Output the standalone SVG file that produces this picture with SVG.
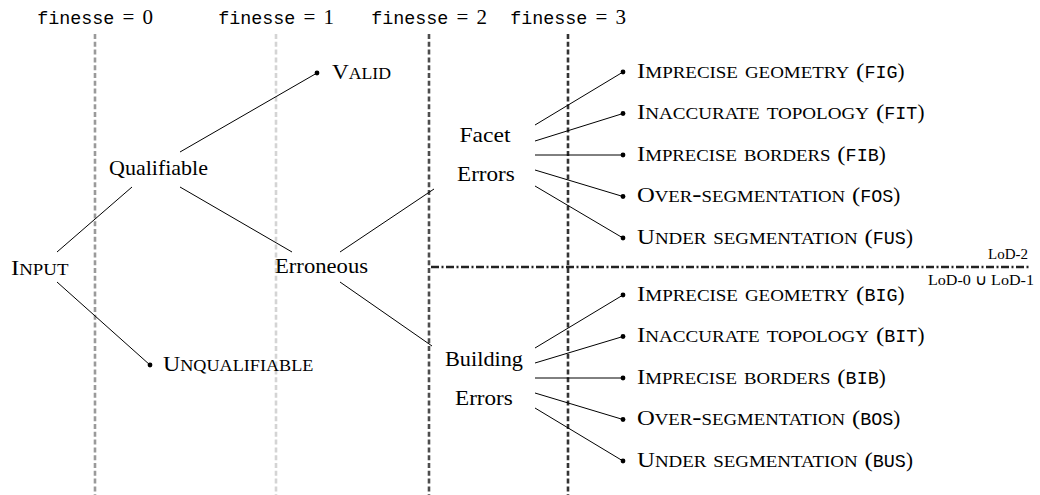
<svg xmlns="http://www.w3.org/2000/svg" width="1040" height="495" viewBox="0 0 1040 495">
<style>
text{font-family:"Liberation Serif","Times New Roman",serif;font-size:21px;fill:#000}
.sc{font-variant:small-caps;font-size:23.5px}
.cap{font-size:21px}
.tt{font-family:"Liberation Mono","Courier New",monospace;font-size:18.4px}
.lod{font-size:14.5px}
.vl{stroke-width:2.6;stroke-dasharray:5 2.8;fill:none}
.c{stroke:#000;stroke-width:1;fill:none}
.dot{fill:#000}
</style>
<rect width="1040" height="495" fill="#fff"/>
<g id="finesse-axes">
<line class="vl" x1="95" y1="34" x2="95" y2="495" stroke="#9a9a9a"/>
<line class="vl" x1="276" y1="34" x2="276" y2="495" stroke="#d4d4d4"/>
<line class="vl" x1="429" y1="34" x2="429" y2="495" stroke="#4d4d4d"/>
<line class="vl" x1="568" y1="34" x2="568" y2="495" stroke="#333"/>
<text y="24"><tspan class="tt" x="37.2" textLength="77.2" lengthAdjust="spacingAndGlyphs">finesse</tspan><tspan x="128.4" text-anchor="middle">=</tspan><tspan x="142.4">0</tspan></text>
<text y="24"><tspan class="tt" x="218.2" textLength="77.2" lengthAdjust="spacingAndGlyphs">finesse</tspan><tspan x="309.4" text-anchor="middle">=</tspan><tspan x="323.4">1</tspan></text>
<text y="24"><tspan class="tt" x="371.2" textLength="77.2" lengthAdjust="spacingAndGlyphs">finesse</tspan><tspan x="462.4" text-anchor="middle">=</tspan><tspan x="476.4">2</tspan></text>
<text y="24"><tspan class="tt" x="510.2" textLength="77.2" lengthAdjust="spacingAndGlyphs">finesse</tspan><tspan x="601.4" text-anchor="middle">=</tspan><tspan x="615.4">3</tspan></text>
</g>
<g id="lod-separator">
<line x1="431" y1="267" x2="1030" y2="267" stroke="#222" stroke-width="2.4" stroke-dasharray="8 2.5 2 2.5"/>
<text class="lod" x="988" y="259" textLength="40" lengthAdjust="spacingAndGlyphs">LoD-2</text>
<text class="lod" x="928" y="285" textLength="106" lengthAdjust="spacingAndGlyphs">LoD-0 ∪ LoD-1</text>
</g>
<g id="connectors">
<line class="c" x1="57" y1="252" x2="132" y2="187"/>
<line class="c" x1="57" y1="282" x2="150" y2="365"/>
<line class="c" x1="180" y1="152" x2="317" y2="73"/>
<line class="c" x1="180" y1="187" x2="292" y2="252"/>
<line class="c" x1="340" y1="252" x2="434" y2="189"/>
<line class="c" x1="340" y1="282" x2="432" y2="346"/>
<line class="c" x1="535" y1="125" x2="623" y2="72"/>
<line class="c" x1="535" y1="141" x2="623" y2="113.5"/>
<line class="c" x1="535" y1="155" x2="623" y2="155"/>
<line class="c" x1="535" y1="170" x2="623" y2="196.5"/>
<line class="c" x1="535" y1="186" x2="623" y2="238"/>
<line class="c" x1="535" y1="348" x2="623" y2="295"/>
<line class="c" x1="535" y1="363" x2="623" y2="336.5"/>
<line class="c" x1="535" y1="378" x2="623" y2="378"/>
<line class="c" x1="535" y1="393" x2="623" y2="419.5"/>
<line class="c" x1="535" y1="408" x2="623" y2="461"/>
</g>
<g id="input"><text class="sc" x="11" y="275" textLength="57.4" lengthAdjust="spacingAndGlyphs"><tspan class="cap">I</tspan>nput</text></g>
<g id="qualifiable"><text x="109" y="175" textLength="99" lengthAdjust="spacingAndGlyphs">Qualifiable</text></g>
<g id="valid"><circle class="dot" cx="317" cy="73" r="2.4"/><text class="sc" x="332" y="78.5" textLength="59" lengthAdjust="spacingAndGlyphs"><tspan class="cap">V</tspan>alid</text></g>
<g id="unqualifiable"><circle class="dot" cx="150" cy="365" r="2.4"/><text class="sc" x="163" y="370.5" textLength="150.4" lengthAdjust="spacingAndGlyphs"><tspan class="cap">U</tspan>nqualifiable</text></g>
<g id="erroneous"><text x="275" y="273" textLength="93" lengthAdjust="spacingAndGlyphs">Erroneous</text></g>
<g id="facet-errors"><text x="459.5" y="142" textLength="51" lengthAdjust="spacingAndGlyphs">Facet</text><text x="457" y="181" textLength="57.8" lengthAdjust="spacingAndGlyphs">Errors</text></g>
<g id="building-errors"><text x="445" y="366" textLength="78" lengthAdjust="spacingAndGlyphs">Building</text><text x="455" y="405" textLength="57.8" lengthAdjust="spacingAndGlyphs">Errors</text></g>
<g id="fig"><circle class="dot" cx="623" cy="72" r="2.4"/><text y="77.5"><tspan class="sc" x="637" textLength="227.4" lengthAdjust="spacingAndGlyphs"><tspan class="cap">I</tspan>mprecise geometry <tspan class="cap">(</tspan></tspan><tspan class="tt" x="864.4">FIG</tspan><tspan x="897.5">)</tspan></text></g>
<g id="fit"><circle class="dot" cx="623" cy="113.5" r="2.4"/><text y="119"><tspan class="sc" x="637" textLength="247.3" lengthAdjust="spacingAndGlyphs"><tspan class="cap">I</tspan>naccurate topology <tspan class="cap">(</tspan></tspan><tspan class="tt" x="884.3">FIT</tspan><tspan x="917.4">)</tspan></text></g>
<g id="fib"><circle class="dot" cx="623" cy="155" r="2.4"/><text y="160.5"><tspan class="sc" x="637" textLength="208.6" lengthAdjust="spacingAndGlyphs"><tspan class="cap">I</tspan>mprecise borders <tspan class="cap">(</tspan></tspan><tspan class="tt" x="845.6">FIB</tspan><tspan x="878.7">)</tspan></text></g>
<g id="fos"><circle class="dot" cx="623" cy="196.5" r="2.4"/><text y="202"><tspan class="sc" x="637" textLength="223.2" lengthAdjust="spacingAndGlyphs"><tspan class="cap">O</tspan>ver-segmentation <tspan class="cap">(</tspan></tspan><tspan class="tt" x="860.2">FOS</tspan><tspan x="893.3">)</tspan></text></g>
<g id="fus"><circle class="dot" cx="623" cy="238" r="2.4"/><text y="243.5"><tspan class="sc" x="637" textLength="235.8" lengthAdjust="spacingAndGlyphs"><tspan class="cap">U</tspan>nder segmentation <tspan class="cap">(</tspan></tspan><tspan class="tt" x="872.8">FUS</tspan><tspan x="905.9">)</tspan></text></g>
<g id="big"><circle class="dot" cx="623" cy="295" r="2.4"/><text y="300.5"><tspan class="sc" x="637" textLength="227.4" lengthAdjust="spacingAndGlyphs"><tspan class="cap">I</tspan>mprecise geometry <tspan class="cap">(</tspan></tspan><tspan class="tt" x="864.4">BIG</tspan><tspan x="897.5">)</tspan></text></g>
<g id="bit"><circle class="dot" cx="623" cy="336.5" r="2.4"/><text y="342"><tspan class="sc" x="637" textLength="247.3" lengthAdjust="spacingAndGlyphs"><tspan class="cap">I</tspan>naccurate topology <tspan class="cap">(</tspan></tspan><tspan class="tt" x="884.3">BIT</tspan><tspan x="917.4">)</tspan></text></g>
<g id="bib"><circle class="dot" cx="623" cy="378" r="2.4"/><text y="383.5"><tspan class="sc" x="637" textLength="208.6" lengthAdjust="spacingAndGlyphs"><tspan class="cap">I</tspan>mprecise borders <tspan class="cap">(</tspan></tspan><tspan class="tt" x="845.6">BIB</tspan><tspan x="878.7">)</tspan></text></g>
<g id="bos"><circle class="dot" cx="623" cy="419.5" r="2.4"/><text y="425"><tspan class="sc" x="637" textLength="223.2" lengthAdjust="spacingAndGlyphs"><tspan class="cap">O</tspan>ver-segmentation <tspan class="cap">(</tspan></tspan><tspan class="tt" x="860.2">BOS</tspan><tspan x="893.3">)</tspan></text></g>
<g id="bus"><circle class="dot" cx="623" cy="461" r="2.4"/><text y="466.5"><tspan class="sc" x="637" textLength="235.8" lengthAdjust="spacingAndGlyphs"><tspan class="cap">U</tspan>nder segmentation <tspan class="cap">(</tspan></tspan><tspan class="tt" x="872.8">BUS</tspan><tspan x="905.9">)</tspan></text></g>
</svg>
